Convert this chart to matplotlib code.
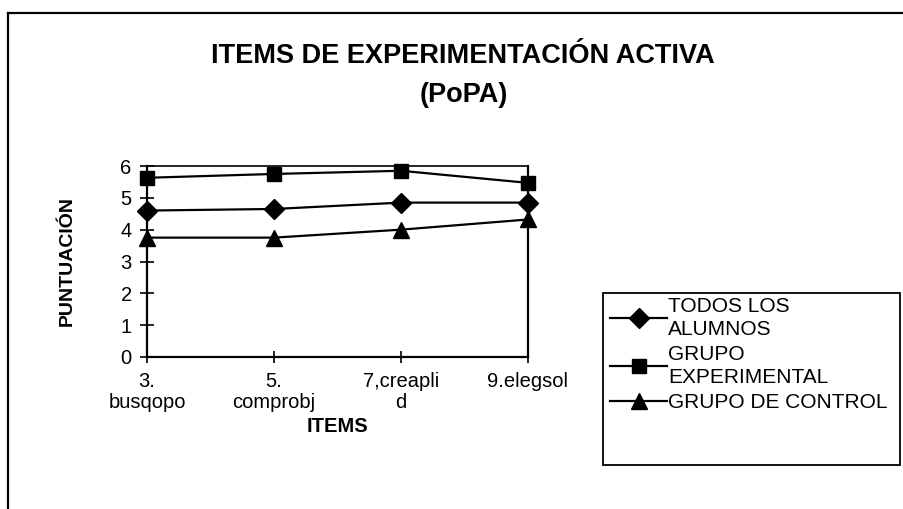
import matplotlib
matplotlib.use("Agg")
import matplotlib.pyplot as plt
from matplotlib.lines import Line2D
from matplotlib.patches import Rectangle

plt.rcParams['font.family'] = ['Liberation Sans', 'DejaVu Sans']

categories = ["3.\nbusqopo", "5.\ncomprobj", "7,creapli\nd", "9.elegsol"]
todos = [4.6, 4.65, 4.85, 4.85]
experimental = [5.63, 5.75, 5.85, 5.47]
control = [3.75, 3.75, 4.0, 4.32]
series_labels = ["TODOS LOS\nALUMNOS", "GRUPO\nEXPERIMENTAL", "GRUPO DE CONTROL"]

W, H = 904, 509
fig = plt.figure(figsize=(W / 100, H / 100), dpi=100)

# scanned page frame
fig.add_artist(Line2D([8/W, 1], [1-13/H, 1-13/H], color='black', lw=1.6))
fig.add_artist(Line2D([8/W, 8/W], [0, 1-13/H], color='black', lw=1.6))

ax = fig.add_axes([147/W, 1-357/H, 381/W, 191/H])
x = range(len(categories))
ax.plot(x, todos, color='black', lw=1.6, marker='D', ms=10, label=series_labels[0], clip_on=False)
ax.plot(x, experimental, color='black', lw=1.6, marker='s', ms=10, label=series_labels[1], clip_on=False)
ax.plot(x, control, color='black', lw=1.6, marker='^', ms=11, label=series_labels[2], clip_on=False)

ax.set_xlim(0, 3)
ax.set_ylim(0, 6)
ax.set_yticks(range(7))
ax.set_xticks(list(x))
ax.set_xticklabels(categories, fontsize=14.5, linespacing=1.15)
ax.tick_params(axis='y', labelsize=14.5, direction='inout', length=10, width=1.2, pad=6)
ax.tick_params(axis='x', direction='inout', length=9, width=1.2, pad=6)
for s in ax.spines.values():
    s.set_linewidth(1.6)
ax.spines['top'].set_linewidth(1.2)

ax.set_ylabel("PUNTUACIÓN", fontsize=14, fontweight='bold', labelpad=32)
ax.set_xlabel("ITEMS", fontsize=14.5, fontweight='bold', labelpad=3.5)

fig.text(463/W, 1-56/H, "ITEMS DE EXPERIMENTACIÓN ACTIVA", ha='center', va='center',
         fontsize=19.5, fontweight='bold')
fig.text(464/W, 1-95/H, "(PoPA)", ha='center', va='center',
         fontsize=19.5, fontweight='bold')

# legend box drawn as a plain rectangle, entries placed inside it
fig.add_artist(Rectangle((603/W, 1-465/H), 297/W, 172/H, transform=fig.transFigure,
                         fill=False, edgecolor='black', lw=1.3))
leg = fig.legend(loc='upper left', bbox_to_anchor=(610/W, 1-297/H), frameon=False,
                 fontsize=15, handlelength=2.75, handletextpad=0.05, borderaxespad=0,
                 borderpad=0, labelspacing=0.3)
for t in leg.get_texts():
    t.set_linespacing(1.25)

fig.savefig("out.png", dpi=100)
